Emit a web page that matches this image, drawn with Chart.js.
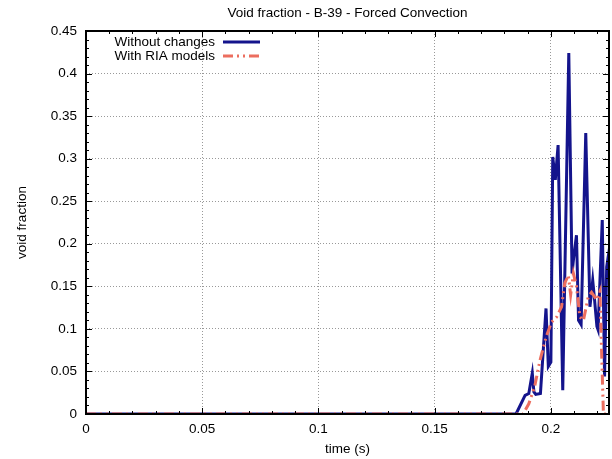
<!DOCTYPE html>
<html>
<head>
<meta charset="utf-8">
<title>Void fraction - B-39 - Forced Convection</title>
<script src="https://cdn.jsdelivr.net/npm/chart.js"></script>
<style>
  html, body { margin: 0; padding: 0; background: #fff; }
  #wrap { width: 612px; height: 459px; }
</style>
</head>
<body>
<div id="wrap"><canvas id="voidChart" width="612" height="459"></canvas></div>
<script>
// values (time in s, void fraction)
const timeNoChange = [0, 0.185, 0.1889, 0.1905, 0.192, 0.1927, 0.1935, 0.1955, 0.1979, 0.1989, 0.2,
  0.2008, 0.2019, 0.2031, 0.2051, 0.2077, 0.2091, 0.2097, 0.211, 0.2119, 0.213, 0.215, 0.2168,
  0.218, 0.2186, 0.2198, 0.2203, 0.2221, 0.2231, 0.224, 0.2255];
const voidNoChange = [0, 0, 0.022, 0.024, 0.048, 0.026, 0.023, 0.024, 0.124, 0.056, 0.061,
  0.302, 0.275, 0.316, 0.028, 0.424, 0.165, 0.181, 0.21, 0.110, 0.105, 0.33, 0.126,
  0.157, 0.14, 0.103, 0.099, 0.228, 0.044, 0.173, 0.2];

const timeRia = [0, 0.188, 0.1905, 0.193, 0.1953, 0.198, 0.2003, 0.2025, 0.2046, 0.206, 0.2075,
  0.2085, 0.2097, 0.211, 0.2125, 0.214, 0.2161, 0.2175, 0.2197, 0.2211, 0.2218, 0.2226, 0.2255];
const voidRia = [0, 0, 0.012, 0.032, 0.063, 0.091, 0.108, 0.114, 0.126, 0.154, 0.163,
  0.14, 0.165, 0.15, 0.114, 0.11, 0.138, 0.143, 0.134, 0.144, 0.075, 0, 0];

const xTicks = [0, 0.05, 0.1, 0.15, 0.2];
const yTicks = [0, 0.05, 0.1, 0.15, 0.2, 0.25, 0.3, 0.35, 0.4, 0.45];
const seriesLabels = ['Without changes', 'With RIA models'];

const FONT = 'Liberation Sans, Arial, Helvetica, sans-serif';
const FSIZE = 13.5;

const toPoints = (xs, ys) => xs.map((x, i) => ({ x: x, y: ys[i] }));
const fmt = v => String(+v.toFixed(3));

// gnuplot-like frame, inward tics, title and key
const gnuplotDecor = {
  id: 'gnuplotDecor',
  afterDatasetsDraw(chart) {
    const { ctx, chartArea: a, scales } = chart;
    const xs = scales.x, ys = scales.y;
    ctx.save();
    ctx.strokeStyle = '#000';
    ctx.lineWidth = 1;
    ctx.beginPath();
    for (let i = 0; i <= 22; i++) {
      const px = Math.round(xs.getPixelForValue(i * 0.01)) + 0.5;
      const len = (i % 5 === 0) ? 6 : 3;
      ctx.moveTo(px, a.bottom); ctx.lineTo(px, a.bottom - len);
      ctx.moveTo(px, a.top); ctx.lineTo(px, a.top + len);
    }
    for (let i = 0; i <= 45; i++) {
      const py = Math.round(ys.getPixelForValue(i * 0.01)) + 0.5;
      const len = (i % 5 === 0) ? 6 : 3;
      ctx.moveTo(a.left, py); ctx.lineTo(a.left + len, py);
      ctx.moveTo(a.right, py); ctx.lineTo(a.right - len, py);
    }
    ctx.stroke();
    ctx.lineWidth = 2;
    ctx.strokeRect(a.left, a.top, a.right - a.left, a.bottom - a.top);
    ctx.restore();
  },
  afterDraw(chart) {
    const { ctx, chartArea: a } = chart;
    ctx.save();
    ctx.fillStyle = '#000';
    ctx.font = FSIZE + 'px ' + FONT;
    ctx.textAlign = 'center';
    ctx.textBaseline = 'middle';
    ctx.fillText('Void fraction - B-39 - Forced Convection', (a.left + a.right) / 2, 13.5);

    // key
    ctx.textAlign = 'right';
    chart.data.datasets.forEach((ds, i) => {
      const y = 42 + i * 14;
      ctx.fillStyle = '#000';
      ctx.fillText(ds.label, 215, y);
      ctx.strokeStyle = ds.borderColor;
      ctx.lineWidth = ds.borderWidth;
      ctx.setLineDash(ds.borderDash || []);
      ctx.beginPath();
      ctx.moveTo(223, y); ctx.lineTo(260, y);
      ctx.stroke();
    });
    ctx.restore();
  }
};

const ctx = document.getElementById('voidChart').getContext('2d');
new Chart(ctx, {
  type: 'line',
  data: {
    datasets: [
      {
        label: seriesLabels[0],
        data: toPoints(timeNoChange, voidNoChange),
        borderColor: '#14148c',
        borderWidth: 3,
        pointRadius: 0,
        tension: 0,
        order: 1
      },
      {
        label: seriesLabels[1],
        data: toPoints(timeRia, voidRia),
        borderColor: 'rgb(236,110,95)',
        borderWidth: 3,
        borderDash: [10, 4, 2, 4, 2, 4],
        pointRadius: 0,
        tension: 0,
        order: 0
      }
    ]
  },
  options: {
    responsive: false,
    animation: false,
    layout: { padding: { left: 0, right: 3, top: 31, bottom: 0 } },
    plugins: {
      legend: { display: false },
      title: { display: false },
      tooltip: { enabled: false }
    },
    scales: {
      x: {
        type: 'linear',
        min: 0,
        max: 0.225,
        afterBuildTicks: s => { s.ticks = xTicks.map(v => ({ value: v })); },
        afterFit: s => { s.height = 45; },
        ticks: {
          callback: v => fmt(v),
          color: '#000',
          font: { family: FONT, size: FSIZE },
          padding: 7,
          maxRotation: 0
        },
        grid: { color: '#999', drawTicks: false },
        border: { display: false, dash: [1, 2] },
        title: {
          display: true,
          text: 'time (s)',
          color: '#000',
          font: { family: FONT, size: FSIZE },
          padding: { top: 0, bottom: 2 }
        }
      },
      y: {
        min: 0,
        max: 0.45,
        afterBuildTicks: s => { s.ticks = yTicks.map(v => ({ value: v })); },
        afterFit: s => { s.width = 86; },
        ticks: {
          callback: v => fmt(v),
          color: '#000',
          font: { family: FONT, size: FSIZE },
          padding: 9
        },
        grid: { color: '#999', drawTicks: false },
        border: { display: false, dash: [1, 2] },
        title: {
          display: true,
          text: 'void fraction',
          color: '#000',
          font: { family: FONT, size: FSIZE },
          padding: { top: 14, bottom: 0 }
        }
      }
    }
  },
  plugins: [gnuplotDecor]
});
</script>
</body>
</html>
